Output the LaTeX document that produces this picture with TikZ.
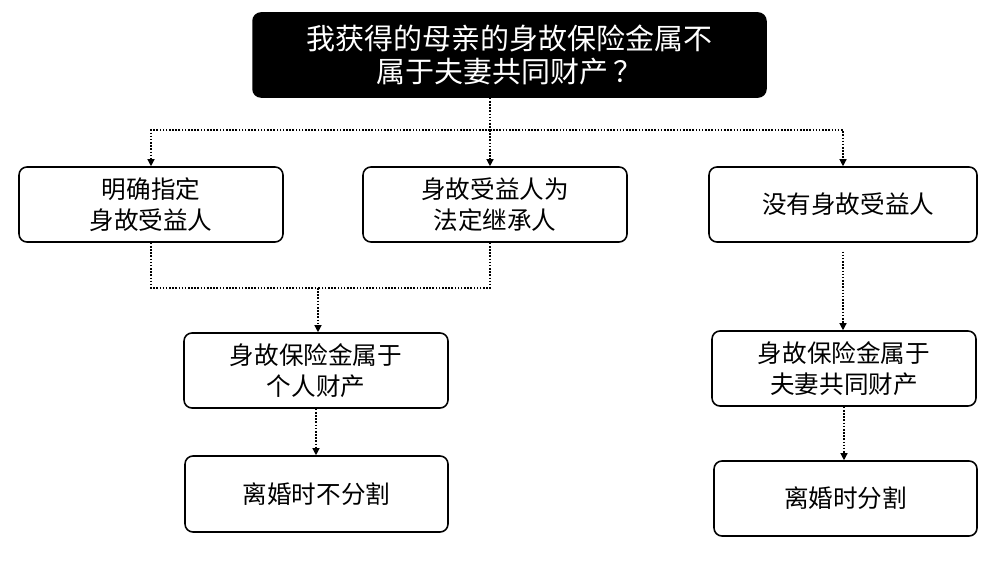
\documentclass[tikz,border=0pt]{standalone}
\usepackage{fontspec}
\newfontfamily\cjk{Noto Sans CJK SC}
\usetikzlibrary{arrows.meta}
\begin{document}
\begin{tikzpicture}[x=0.02cm,y=-0.02cm,
  box/.style={draw=black, line width=0.9pt, rounded corners=4.5pt, align=center, inner sep=0pt,
    font=\cjk\fontsize{14}{17.5}\selectfont},
  topbox/.style={box, fill=black, text=white, font=\cjk\fontsize{16.5}{19}\selectfont},
  conn/.style={line width=0.7pt, dash pattern=on 0.9pt off 0.9pt},
  arr/.style={conn, -{Triangle[width=4pt,length=4pt]}}]
\useasboundingbox (0,0) rectangle (1000,563);
\node[topbox, minimum width=10.26cm, minimum height=1.68cm] (top) at (509.5,55) {我获得的母亲的身故保险金属不\\属于夫妻共同财产\,？};
\node[box, minimum width=5.28cm, minimum height=1.5cm] (A) at (151,204.5) {明确指定\\身故受益人};
\node[box, minimum width=5.28cm, minimum height=1.5cm] (B) at (495,204.5) {身故受益人为\\法定继承人};
\node[box, minimum width=5.36cm, minimum height=1.5cm] (C) at (843,204.5) {\hspace*{6pt}没有身故受益人};
\node[box, minimum width=5.28cm, minimum height=1.5cm] (D) at (316,370.5) {身故保险金属于\\个人财产};
\node[box, minimum width=5.26cm, minimum height=1.52cm] (E) at (316.5,494) {离婚时不分割};
\node[box, minimum width=5.28cm, minimum height=1.5cm] (F) at (844,368.5) {身故保险金属于\\夫妻共同财产};
\node[box, minimum width=5.26cm, minimum height=1.5cm] (G) at (845.5,498.5) {离婚时分割};
\coordinate (j1) at (490,130);
\coordinate (j2) at (318,288);
\draw[conn] (top.south -| j1) -- (j1);
\draw[arr] (j1) -| (A.north);
\draw[arr] (j1) -- (B.north -| j1);
\draw[arr] (j1) -| (C.north);
\draw[conn] (A.south) |- (j2);
\draw[conn] (B.south -| j1) |- (j2);
\draw[arr] (j2) -- (D.north -| j2);
\draw[arr] (D.south) -- (D.south |- E.north);
\draw[arr] ([yshift=-5pt]C.south) -- (C.south |- F.north);
\draw[arr] (F.south) -- (F.south |- G.north);
\end{tikzpicture}
\end{document}
